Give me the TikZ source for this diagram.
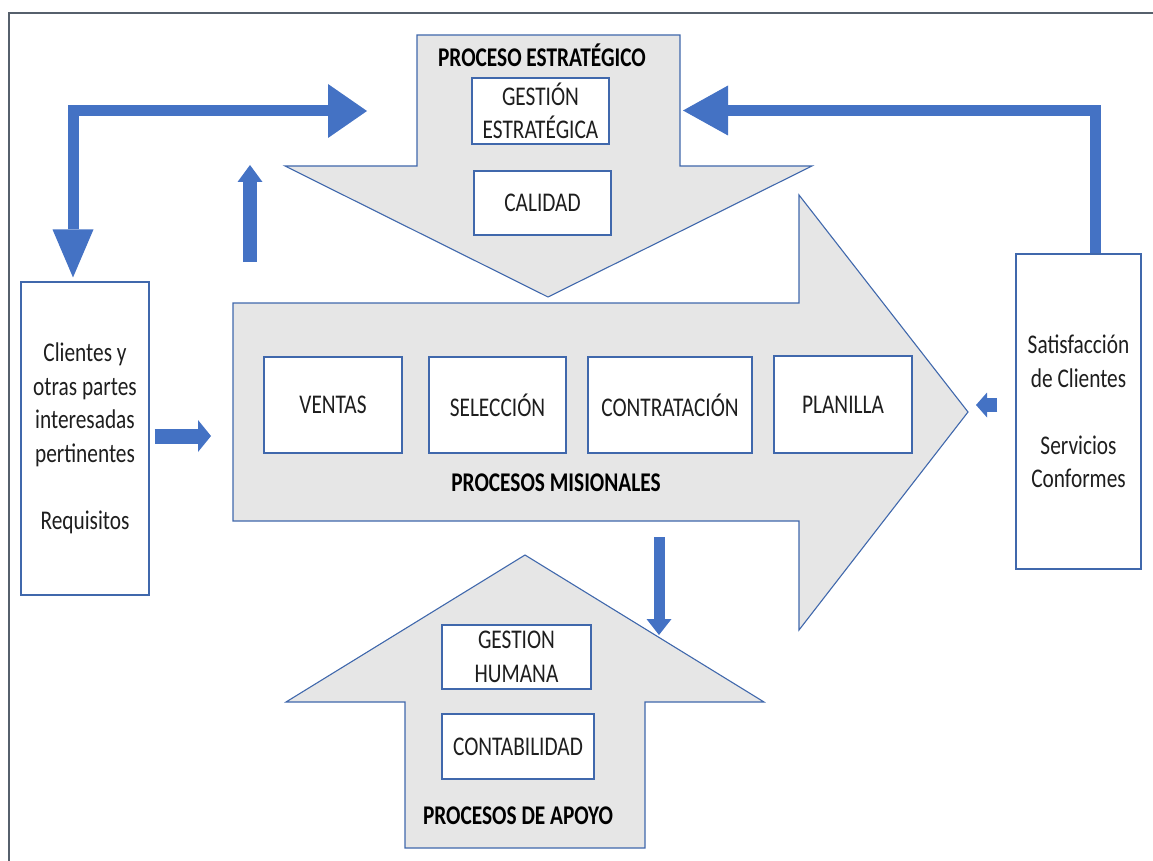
\documentclass[tikz,border=0pt]{standalone}
\usepackage{fontspec}
\setmainfont{Carlito}[FakeStretch=0.79]
\usetikzlibrary{arrows.meta}
\definecolor{officeblue}{HTML}{4472C4}
\definecolor{shapeline}{HTML}{4068AC}
\definecolor{shapefill}{HTML}{E6E6E6}
\definecolor{framegray}{HTML}{56606C}
\definecolor{ink}{HTML}{1E1E1E}

\begin{document}
\begin{tikzpicture}[x=1pt,y=-1pt,
  every node/.style={font=\fontsize{27}{33.5}\selectfont, text=ink},
  block/.style={fill=shapefill, draw=shapeline, line width=1.1pt, line join=miter},
  box/.style={draw=shapeline, fill=white, line width=1.1pt, inner sep=0pt, align=center},
  title/.style={font=\bfseries\fontsize{27}{33.5}\selectfont, text=black},
  flow/.style={draw=officeblue, line join=miter},
]
\useasboundingbox (0,0) rectangle (1153,861);

% page frame (top and left edges)
\draw[framegray, line width=2pt] (9,861) -- (9,13) -- (1153,13);

% strategic process: block arrow pointing down
\draw[block] (417,35) -- (680,35) -- (680,166) -- (812,166) -- (548,297)
  -- (285,166) -- (417,166) -- cycle;
% mission processes: block arrow pointing right
\draw[block] (233,303) -- (799,303) -- (799,195) -- (968,412) -- (799,630)
  -- (799,521) -- (233,521) -- cycle;
% support processes: block arrow pointing up
\draw[block] (405,848) -- (405,702) -- (286,702) -- (525,555) -- (764,702)
  -- (645,702) -- (645,848) -- cycle;

% titles
\node[title] (tstrat) at (542,55) {PROCESO ESTRATÉGICO};
\node[title] (tmis) at (556,483) {PROCESOS MISIONALES};
\node[title] (tapoyo) at (518,816) {PROCESOS DE APOYO};

% process boxes
\node[box, minimum width=137pt, minimum height=66pt] (gest) at (540.5,111) {GESTIÓN\\ESTRATÉGICA};
\node[box, minimum width=137pt, minimum height=64pt] (cal) at (542.5,203) {CALIDAD};
\node[box, minimum width=138pt, minimum height=96pt] (ventas) at (333,405) {VENTAS};
\node[box, minimum width=137pt, minimum height=96pt] (selec) at (497.5,405) {SELECCIÓN};
\node[box, minimum width=164pt, minimum height=96pt] (contr) at (670,405) {CONTRATACIÓN};
\node[box, minimum width=138pt, minimum height=97pt] (plan) at (843,404.5) {PLANILLA};
\node[box, minimum width=149pt, minimum height=64pt] (gh) at (516.5,657) {GESTION\\HUMANA};
\node[box, minimum width=152pt, minimum height=65pt] (conta) at (518,746.5) {CONTABILIDAD};

% side boxes
\node[box, minimum width=128pt, minimum height=313pt] (clients) at (85,438.5)
  {Clientes y\\otras partes\\interesadas\\pertinentes\\[33.5pt]Requisitos};
\node[box, minimum width=125pt, minimum height=315pt] (satis) at (1078.5,411.5)
  {Satisfacción\\de Clientes\\[33.5pt]Servicios\\Conformes};

% free ends of the flows
\coordinate (stratL) at (367,111);
\coordinate (stratR) at (683,110.5);
\coordinate (upS) at (250,262);
\coordinate (upE) at (250,165);
\coordinate (dnS) at (659,537);
\coordinate (dnE) at (659,635);
\coordinate (misIn) at (211,436);
\coordinate (misTip) at (976,405);

% flows
\draw[flow, line width=11pt,
  {Triangle[length=48pt,width=41pt,line width=0pt]}-{Triangle[length=39pt,width=54pt,line width=0pt]}]
  ([xshift=-12pt,yshift=4pt]clients.north) |- (stratL);
\draw[flow, line width=11pt, -{Triangle[length=45pt,width=50pt,line width=0pt]}]
  ([xshift=17pt]satis.north) |- (stratR);
\draw[flow, line width=14pt, -{Triangle[length=17pt,width=25pt,line width=0pt]}] (upS) -- (upE);
\draw[flow, line width=11pt, -{Triangle[length=16pt,width=25pt,line width=0pt]}] (dnS) -- (dnE);
\draw[flow, line width=15pt, -{Triangle[length=13pt,width=32pt,line width=0pt]}]
  ([xshift=5pt,yshift=2.5pt]clients.east) -- (misIn);
\draw[flow, line width=14pt, -{Triangle[length=11pt,width=25pt,line width=0pt]}]
  ([xshift=-18pt,yshift=6.5pt]satis.west) -- (misTip);
\end{tikzpicture}
\end{document}
